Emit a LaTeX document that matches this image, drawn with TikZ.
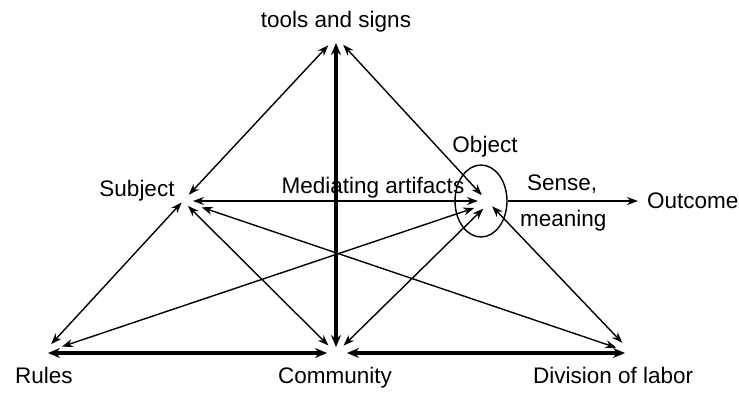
\documentclass[tikz,border=0pt]{standalone}
\usepackage{fontspec}
\setmainfont{Liberation Sans}
\usetikzlibrary{arrows.meta,calc,shapes.geometric}
\begin{document}
\begin{tikzpicture}[x=1pt,y=-1pt,
  lbl/.style={inner sep=0pt,font=\fontsize{22.5}{27}\selectfont},
  thinarr/.style={line width=1.4pt,{Stealth[length=11pt,width=8pt]}-{Stealth[length=11pt,width=8pt]}},
  thickarr/.style={line width=3.2pt,{Stealth[length=12pt,width=10pt]}-{Stealth[length=12pt,width=10pt]}},
  onearr/.style={line width=1.4pt,-{Stealth[length=11pt,width=8pt]}},
  ring/.style={draw,ellipse,line width=1.4pt,minimum width=52pt,minimum height=72pt,inner sep=0pt}
]
\useasboundingbox (0,0) rectangle (739,392);
% hubs
\coordinate (T) at (336,37);
\coordinate (S) at (183,201);
\coordinate (O) at (489,203);
\coordinate (R) at (43,353);
\coordinate (C) at (336,353);
\coordinate (D) at (632,353);
% labels
\node[lbl,anchor=base] (lt) at (336,27) {tools and signs};
\node[lbl,anchor=base] (ls) at (137,196) {Subject};
\node[lbl,anchor=base] (lm) at (373,193) {Mediating artifacts};
\node[lbl,anchor=base] (lob) at (485,152) {Object};
\node[lbl,anchor=base west] (lse) at (527,190) {Sense,};
\node[lbl,anchor=base west] (lme) at (520,226) {meaning};
\node[lbl,anchor=base west] (lo) at (647,208) {Outcome};
\node[lbl,anchor=base west] (lr) at (15,383) {Rules};
\node[lbl,anchor=base] (lc) at (335,383) {Community};
\node[lbl,anchor=base west] (ld) at (533,383) {Division of labor};
% object ellipse
\node[ring] (E) at (481,201) {};
% connectors
\draw[thinarr, shorten <=11.3pt, shorten >=8.6pt] (T) -- (S);
\draw[thinarr, shorten <=10.6pt, shorten >=10.6pt] (T) -- (O);
\draw[thickarr, shorten <=6pt, shorten >=6pt] (T) -- (C);
\draw[thinarr, shorten <=10pt, shorten >=11pt] (S) -- (S -| O);
\draw[thinarr, shorten <=2pt, shorten >=12pt] (S) -- (R);
\draw[thinarr, shorten <=7pt, shorten >=10.6pt] (S) -- (C);
\draw[thinarr, shorten <=19.7pt, shorten >=16.5pt] (S) -- (D);
\draw[thinarr, shorten <=15.6pt, shorten >=20pt] (O) -- (R);
\draw[thinarr, shorten <=8pt, shorten >=10.6pt] (O) -- (C);
\draw[thinarr, shorten <=4.5pt, shorten >=14pt] (O) -- (D);
\draw[thickarr, shorten <=5pt, shorten >=9pt] (R) -- (C);
\draw[thickarr, shorten <=11pt, shorten >=7pt] (C) -- (D);
\draw[onearr, shorten >=9pt] (E.east) -- (E.east -| lo.west);
\end{tikzpicture}
\end{document}
